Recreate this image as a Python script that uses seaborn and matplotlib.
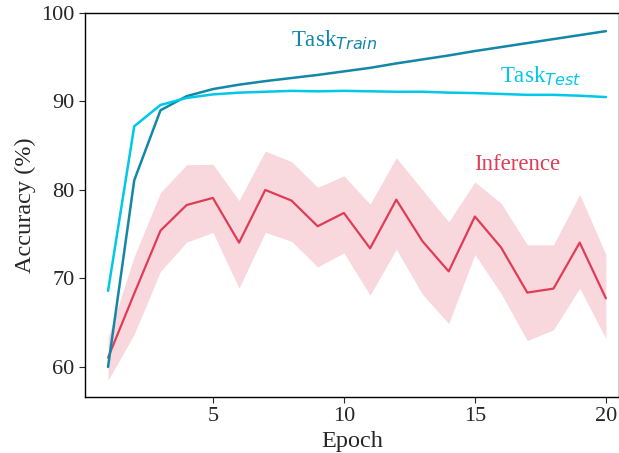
import numpy as np
import pandas as pd
import matplotlib
matplotlib.use("Agg")
import matplotlib.pyplot as plt
import seaborn as sns

epochs = list(range(1, 21))
task_train = [60.0, 81.1, 89.0, 90.6, 91.4, 91.9, 92.3, 92.65, 93.0, 93.4,
              93.8, 94.3, 94.75, 95.2, 95.7, 96.15, 96.6, 97.05, 97.5, 97.95]
task_test = [68.6, 87.2, 89.6, 90.4, 90.8, 91.0, 91.1, 91.2, 91.15, 91.2,
             91.15, 91.1, 91.1, 91.0, 90.95, 90.85, 90.75, 90.75, 90.65, 90.5]
inf_mean = [61.05, 68.3, 75.4, 78.3, 79.1, 74.05, 80.0, 78.8, 75.9, 77.4,
            73.4, 78.9, 74.2, 70.8, 77.0, 73.5, 68.4, 68.85, 74.05, 67.75]
inf_upper = [63.35, 72.5, 79.7, 82.85, 82.9, 78.8, 84.4, 83.2, 80.3, 81.6,
             78.4, 83.65, 80.0, 76.4, 80.9, 78.5, 73.8, 73.8, 79.5, 72.7]
inf_lower = [58.5, 63.7, 70.8, 74.1, 75.2, 68.9, 75.2, 74.2, 71.3, 72.9,
             68.1, 73.3, 68.2, 64.9, 72.7, 68.3, 62.97, 64.2, 68.9, 63.2]

c_train = "#1287a8"
c_test = "#00c8e8"
c_inf = "#e03c56"

sns.set_style("ticks")
plt.rcParams["font.family"] = ["Liberation Serif", "DejaVu Serif"]
plt.rcParams["mathtext.fontset"] = "dejavusans"

fig = plt.figure(figsize=(6.19, 4.53), dpi=100)
ax = fig.add_axes([85 / 619, 1 - 397 / 453, 1 - 85 / 619, (397 - 13) / 453])

df_inf = pd.DataFrame({
    "Epoch": epochs * 3,
    "Accuracy": inf_lower + inf_mean + inf_upper,
})
sns.lineplot(data=df_inf, x="Epoch", y="Accuracy", estimator="median",
             errorbar=("pi", 100), color=c_inf, lw=1.6, ax=ax,
             err_kws={"alpha": 0.2, "lw": 0})
sns.lineplot(x=epochs, y=task_train, color=c_train, lw=1.8, ax=ax)
sns.lineplot(x=epochs, y=task_test, color=c_test, lw=1.8, ax=ax)

ax.text(8.0, 96.9, r"Task$_{Train}$", color=c_train, fontsize=16.5,
        ha="left", va="center")
ax.text(15.96, 92.9, r"Task$_{Test}$", color=c_test, fontsize=16.5,
        ha="left", va="center")
ax.text(14.97, 82.9, "Inference", color=c_inf, fontsize=16.5,
        ha="left", va="center")

ax.set_xlim(0.12, 20.5)
ax.set_ylim(56.6, 100)
ax.set_xticks([5, 10, 15, 20])
ax.set_yticks([60, 70, 80, 90, 100])
ax.tick_params(labelsize=16, length=4, width=0.8)
ax.set_xlabel("Epoch", fontsize=17.5, labelpad=3)
ax.set_ylabel("Accuracy (%)", fontsize=17.5, labelpad=4)
for s in ax.spines.values():
    s.set_linewidth(1.0)
    s.set_color("black")

fig.savefig("out.png", dpi=100)
